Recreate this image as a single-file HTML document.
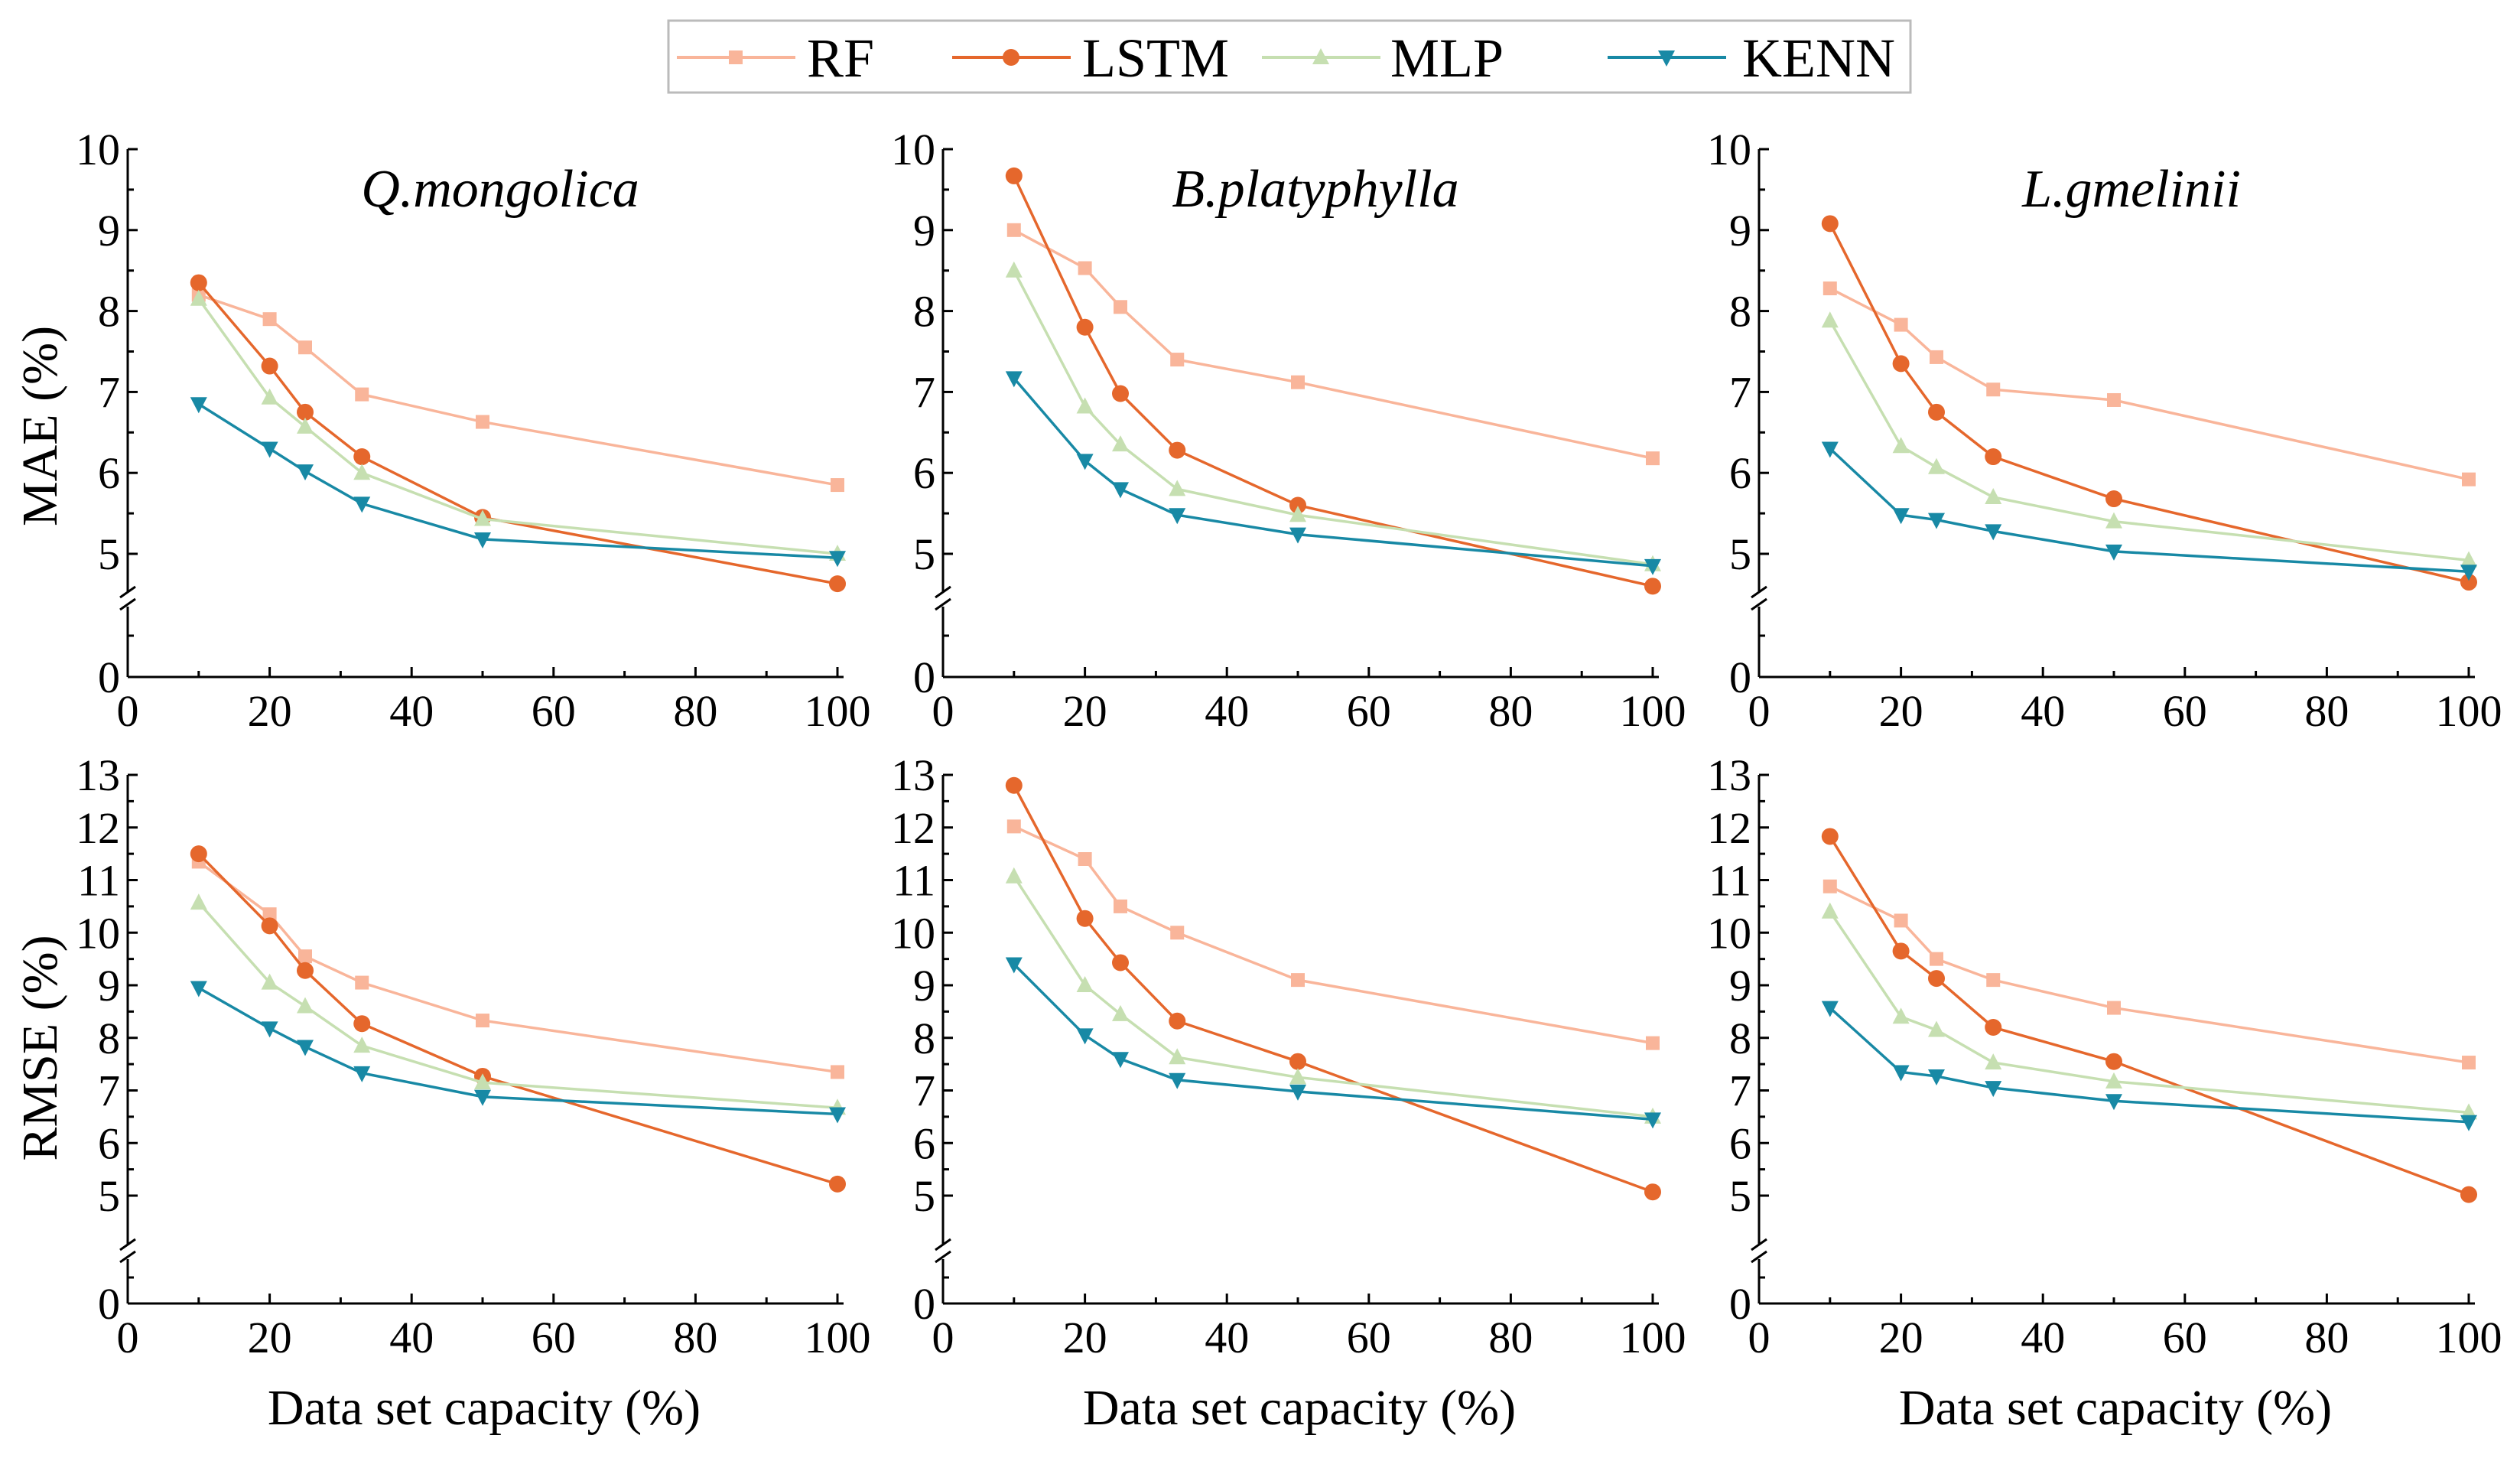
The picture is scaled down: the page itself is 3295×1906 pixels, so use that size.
<!DOCTYPE html>
<html><head><meta charset="utf-8"><style>
html,body{margin:0;padding:0;background:#fff}
svg{display:block;font-family:"Liberation Serif",serif}
text{font-family:"Liberation Serif",serif}
</style></head><body>
<svg id="chart" width="3295" height="1906" viewBox="0 0 3295 1906" xmlns="http://www.w3.org/2000/svg">
<g id="legend">
<rect x="874" y="27" width="1624" height="94" fill="#fff" stroke="#bbb" stroke-width="3"/>
</g>
<g id="plots"></g>
</svg>
<script>
const xValues = [10, 20, 25, 33, 50, 100];
const seriesNames = ["RF", "LSTM", "MLP", "KENN"];
const seriesColors = ["#f9b59a", "#e5672c", "#c6dfb1", "#1889a5"];
const speciesNames = ["Q.mongolica", "B.platyphylla", "L.gmelinii"];
const maeQ_RF = [8.2, 7.9, 7.55, 6.97, 6.63, 5.85];
const maeQ_LSTM = [8.35, 7.32, 6.75, 6.2, 5.45, 4.63];
const maeQ_MLP = [8.15, 6.93, 6.57, 6.0, 5.43, 5.0];
const maeQ_KENN = [6.85, 6.3, 6.02, 5.62, 5.18, 4.95];
const maeB_RF = [9.0, 8.53, 8.05, 7.4, 7.12, 6.18];
const maeB_LSTM = [9.67, 7.8, 6.98, 6.28, 5.6, 4.6];
const maeB_MLP = [8.5, 6.82, 6.35, 5.8, 5.48, 4.87];
const maeB_KENN = [7.17, 6.15, 5.8, 5.48, 5.24, 4.85];
const maeL_RF = [8.28, 7.83, 7.43, 7.03, 6.9, 5.92];
const maeL_LSTM = [9.08, 7.35, 6.75, 6.2, 5.68, 4.65];
const maeL_MLP = [7.88, 6.33, 6.07, 5.7, 5.4, 4.92];
const maeL_KENN = [6.3, 5.48, 5.42, 5.28, 5.03, 4.78];
const rmseQ_RF = [11.35, 10.35, 9.55, 9.05, 8.33, 7.35];
const rmseQ_LSTM = [11.5, 10.13, 9.28, 8.27, 7.27, 5.22];
const rmseQ_MLP = [10.57, 9.05, 8.6, 7.85, 7.15, 6.67];
const rmseQ_KENN = [8.95, 8.18, 7.83, 7.33, 6.88, 6.55];
const rmseB_RF = [12.02, 11.4, 10.5, 10.0, 9.1, 7.9];
const rmseB_LSTM = [12.8, 10.27, 9.43, 8.32, 7.55, 5.07];
const rmseB_MLP = [11.07, 9.0, 8.45, 7.63, 7.25, 6.5];
const rmseB_KENN = [9.4, 8.05, 7.6, 7.2, 6.98, 6.45];
const rmseL_RF = [10.88, 10.23, 9.5, 9.1, 8.57, 7.53];
const rmseL_LSTM = [11.83, 9.65, 9.13, 8.2, 7.55, 5.02];
const rmseL_MLP = [10.4, 8.4, 8.15, 7.53, 7.17, 6.58];
const rmseL_KENN = [8.57, 7.35, 7.27, 7.05, 6.8, 6.4];
const xTicks = [0, 20, 40, 60, 80, 100];
const maeTicks = [5, 6, 7, 8, 9, 10];
const rmseTicks = [5, 6, 7, 8, 9, 10, 11, 12, 13];

const maeData = [[maeQ_RF,maeQ_LSTM,maeQ_MLP,maeQ_KENN],[maeB_RF,maeB_LSTM,maeB_MLP,maeB_KENN],[maeL_RF,maeL_LSTM,maeL_MLP,maeL_KENN]];
const rmseData = [[rmseQ_RF,rmseQ_LSTM,rmseQ_MLP,rmseQ_KENN],[rmseB_RF,rmseB_LSTM,rmseB_MLP,rmseB_KENN],[rmseL_RF,rmseL_LSTM,rmseL_MLP,rmseL_KENN]];

const NS = "http://www.w3.org/2000/svg";
const plots = document.getElementById("plots");
function mk(tag, attrs, parent) {
  const e = document.createElementNS(NS, tag);
  for (const k in attrs) e.setAttribute(k, attrs[k]);
  (parent || plots).appendChild(e);
  return e;
}
function marker(i, cx, cy, parent) {
  const c = seriesColors[i]; let e;
  if (i === 0) e = mk("rect", {x: cx-9, y: cy-9, width: 18, height: 18, fill: c}, parent);
  else if (i === 1) e = mk("circle", {cx: cx, cy: cy, r: 11, fill: c}, parent);
  else if (i === 2) e = mk("polygon", {points: `${cx},${cy-12} ${cx-11},${cy+9} ${cx+11},${cy+9}`, fill: c}, parent);
  else e = mk("polygon", {points: `${cx},${cy+12} ${cx-11},${cy-9} ${cx+11},${cy-9}`, fill: c}, parent);
  return e;
}

const legend = document.getElementById("legend");
const legX = [885, 1245, 1650, 2102];
const legTX = [1055, 1415, 1818, 2278];
seriesNames.forEach((n, i) => {
  const g = mk("g", {}, legend);
  
  
  mk("line", {x1: legX[i], y1: 75, x2: legX[i]+155, y2: 75, stroke: seriesColors[i], "stroke-width": 4}, g);
  marker(i, legX[i]+77, 75, g);
  const t = mk("text", {x: legTX[i], y: 100, "font-size": 72, fill: "#000"}, g);
  t.textContent = n;
});

const panelX0 = [167, 1233, 2300];
const PW = 928;
function drawPanel(col, row) {
  const isMae = row === 0;
  const x0 = panelX0[col], x1 = x0 + PW;
  const yZero = isMae ? 885 : 1704;
  const yTop = isMae ? 195 : 1013;
  const y5 = isMae ? 724 : 1563;
  const vTop = isMae ? 10 : 13;
  const yBreak = isMae ? 783 : 1636;
  const minorLow = isMae ? 831 : 1670;
  const ticks = isMae ? maeTicks : rmseTicks;
  const data = isMae ? maeData[col] : rmseData[col];
  const xs = v => x0 + v / 100 * PW;
  const ys = v => y5 - (v - 5) * (y5 - yTop) / (vTop - 5);
  const g = mk("g", {});
  
  
  mk("line", {x1: x0, y1: yTop, x2: x0, y2: yBreak - 10, stroke: "#000", "stroke-width": 3}, g);
  mk("line", {x1: x0, y1: yBreak + 10, x2: x0, y2: yZero, stroke: "#000", "stroke-width": 3}, g);
  mk("line", {x1: x0-10, y1: yBreak-2, x2: x0+10, y2: yBreak-16, stroke: "#000", "stroke-width": 3}, g);
  mk("line", {x1: x0-10, y1: yBreak+14, x2: x0+10, y2: yBreak, stroke: "#000", "stroke-width": 3}, g);
  mk("line", {x1: x0, y1: yZero, x2: x1 + 8, y2: yZero, stroke: "#000", "stroke-width": 3}, g);
  ticks.forEach(v => {
    mk("line", {x1: x0, y1: ys(v), x2: x0 + 13, y2: ys(v), stroke: "#000", "stroke-width": 3}, g);
    const t = mk("text", {x: x0 - 10, y: ys(v) + 20, "font-size": 58, "text-anchor": "end"}, g);
    t.textContent = v;
    if (v < vTop) mk("line", {x1: x0, y1: ys(v + 0.5), x2: x0 + 8, y2: ys(v + 0.5), stroke: "#000", "stroke-width": 3}, g);
  });
  mk("line", {x1: x0, y1: minorLow, x2: x0 + 8, y2: minorLow, stroke: "#000", "stroke-width": 3}, g);
  const t0 = mk("text", {x: x0 - 10, y: yZero + 20, "font-size": 58, "text-anchor": "end"}, g);
  t0.textContent = "0";
  xTicks.forEach(v => {
    mk("line", {x1: xs(v), y1: yZero, x2: xs(v), y2: yZero - 13, stroke: "#000", "stroke-width": 3}, g);
    if (v < 100) mk("line", {x1: xs(v+10), y1: yZero, x2: xs(v+10), y2: yZero - 8, stroke: "#000", "stroke-width": 3}, g);
    const t = mk("text", {x: xs(v), y: yZero + 64, "font-size": 58, "text-anchor": "middle"}, g);
    t.textContent = v;
  });
  data.forEach((vals, i) => {
    const sg = mk("g", {}, g);
    
    
    const pts = vals.map((v, k) => xs(xValues[k]) + "," + ys(v)).join(" ");
    mk("polyline", {points: pts, fill: "none", stroke: seriesColors[i], "stroke-width": 3.5}, sg);
    vals.forEach((v, k) => {
      const m = marker(i, xs(xValues[k]), ys(v), sg);
      
      
    });
  });
  if (isMae) {
    const tt = mk("text", {x: x0 + 487, y: 270, "font-size": 70, "font-style": "italic", "text-anchor": "middle"}, g);
    tt.textContent = speciesNames[col];
    
    
  } else {
    const xt = mk("text", {x: x0 + 466, y: 1862, "font-size": 66, "text-anchor": "middle"}, g);
    xt.textContent = "Data set capacity (%)";
    
    
  }
  if (col === 0) {
    const cy = isMae ? 557 : 1370;
    const yt = mk("text", {x: 0, y: 0, "font-size": 66, "text-anchor": "middle", transform: `translate(74,${cy}) rotate(-90)`}, g);
    yt.textContent = isMae ? "MAE (%)" : "RMSE (%)";
    
    
  }
}
for (let r = 0; r < 2; r++) for (let c = 0; c < 3; c++) drawPanel(c, r);
</script>
</body></html>
